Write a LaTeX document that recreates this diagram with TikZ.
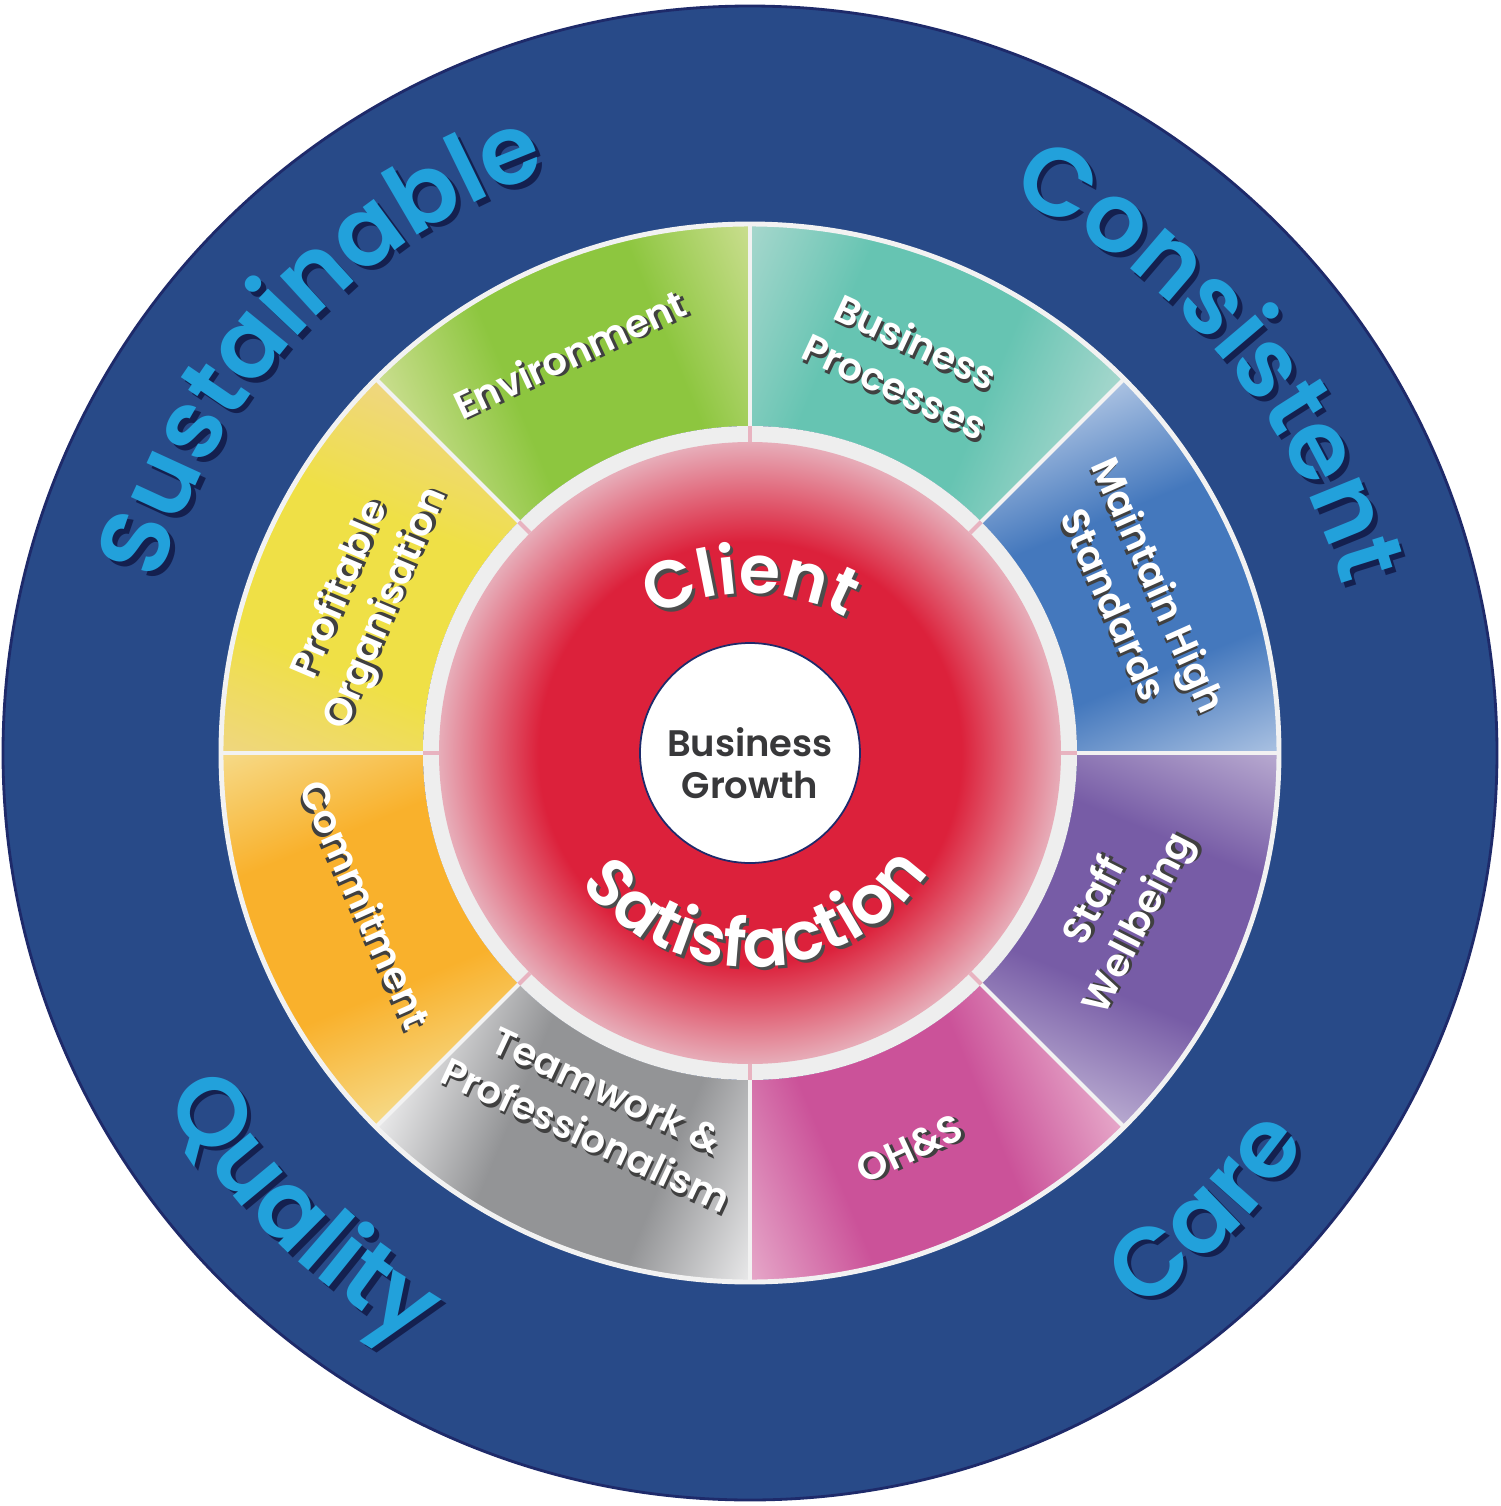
\documentclass[tikz,border=0pt]{standalone}
\usepackage{fontspec}
\setmainfont{Poppins}[BoldFont={Poppins SemiBold}]
\usetikzlibrary{decorations.text}

\definecolor{navy}{HTML}{284A88}
\definecolor{navyline}{HTML}{1E2A6A}
\definecolor{wordblue}{HTML}{22A1DB}
\definecolor{wordshadow}{HTML}{14204F}
\definecolor{ringgray}{HTML}{EEEEEE}
\definecolor{spokegray}{HTML}{F2F2F2}
\definecolor{tickpink}{HTML}{E8B3C0}
\definecolor{clientred}{HTML}{DC213B}
\definecolor{clientpink}{HTML}{E7ADB9}
\definecolor{growthgray}{HTML}{38383A}
\definecolor{envB}{HTML}{8DC63F}\definecolor{envL}{HTML}{CADE8F}
\definecolor{procB}{HTML}{66C4B2}\definecolor{procL}{HTML}{A6D7CD}
\definecolor{stdB}{HTML}{4478BD}\definecolor{stdL}{HTML}{ABC2E2}
\definecolor{staffB}{HTML}{775CA6}\definecolor{staffL}{HTML}{B8AAD0}
\definecolor{ohsB}{HTML}{CB5299}\definecolor{ohsL}{HTML}{E6A8C9}
\definecolor{teamB}{HTML}{939496}\definecolor{teamL}{HTML}{E9E9EA}
\definecolor{comB}{HTML}{F9B12C}\definecolor{comL}{HTML}{F6DA88}
\definecolor{profB}{HTML}{EFE046}\definecolor{profL}{HTML}{EFD680}
\colorlet{segB}{white}
\colorlet{segL}{white}

\pgfdeclarehorizontalshading[segL,segB]{segshade}{100bp}{color(0bp)=(segL); color(25bp)=(segL); color(40bp)=(segB); color(60bp)=(segB); color(75bp)=(segL); color(100bp)=(segL)}
\pgfdeclareradialshading{redglow}{\pgfpoint{0bp}{0bp}}{color(0bp)=(clientred); color(17bp)=(clientred); color(25bp)=(clientpink); color(50bp)=(clientpink)}

\newcommand{\bigword}{\bfseries\fontsize{27.5}{30}\selectfont}
\newcommand{\midword}{\bfseries\fontsize{19}{20}\selectfont}
\newcommand{\shadowed}[1]{\leavevmode\rlap{\kern0.8pt\raisebox{-0.8pt}{\textcolor{black!75}{#1}}}#1}

\begin{document}
\begin{tikzpicture}[
    seglabel/.style={text=white, font=\bfseries\fontsize{11}{14}\selectfont, align=center, inner sep=0pt},
    spoke/.style={draw=spokegray, line width=1.2pt},
    tick/.style={draw=tickpink, line width=1.2pt},
    word/.style={decorate, decoration={text along path, text align=center, text color=wordblue, text={|\bigword|#1}}},
    wordshade/.style={decorate, decoration={text along path, text align=center, text color=wordshadow, text={|\bigword|#1}}},
    ring/.style={decorate, decoration={text along path, text align=center, text color=white, text={|\midword|#1}}},
    ringshade/.style={decorate, decoration={text along path, text align=center, text color=black!70, text={|\midword|#1}}}]
    \useasboundingbox (-7.5,-7.53) rectangle (7.5,7.53);
    \fill[white] (-7.5,-7.53) rectangle (7.5,7.53);
    \draw[fill=navy, draw=navyline, line width=0.8pt] (0,0) circle (7.47);

    \foreach \m/\base/\light in {112.5/envB/envL, 67.5/procB/procL, 22.5/stdB/stdL, 337.5/staffB/staffL,
                                 292.5/ohsB/ohsL, 247.5/teamB/teamL, 202.5/comB/comL, 157.5/profB/profL}{
        \colorlet{segB}{\base}
        \colorlet{segL}{\light}
        \begin{scope}[transform canvas={rotate=\m-90}]
            \shade[shading=segshade] (67.5:3.27) arc[start angle=67.5, end angle=112.5, radius=3.27]
                -- (112.5:5.28) arc[start angle=112.5, end angle=67.5, radius=5.28] -- cycle;
        \end{scope}
    }
    \draw[draw=spokegray, line width=1.4pt] (0,0) circle (5.29);
    \fill[ringgray] (0,0) circle (3.27);
    \shade[shading=redglow] (0,0) circle (3.11);
    \foreach \a in {0,45,...,315}{
        \draw[spoke] (\a:3.27) -- (\a:5.29);
        \draw[tick] (\a:3.11) -- (\a:3.27);
    }

    \node[circle, fill=white, draw=navyline, line width=0.5pt, minimum size=2.2cm] (core) at (0,0) {};
    \node[text=growthgray, font=\bfseries\fontsize{10.5}{12}\selectfont, align=center, inner sep=0pt] (growth) at (0,-0.1) {Business\\Growth};

    \path[ringshade=Client, xshift=0.9pt, yshift=-0.9pt] (0,-0.4) ++(140:2) arc[start angle=140, end angle=40, radius=2];
    \path[ring=Client] (0,-0.4) ++(140:2) arc[start angle=140, end angle=40, radius=2];
    \path[ringshade=Satisfaction, xshift=0.9pt, yshift=-0.9pt] (202:2.14) arc[start angle=202, end angle=342, radius=2.14];
    \path[ring=Satisfaction] (202:2.14) arc[start angle=202, end angle=342, radius=2.14];

    \node[seglabel, rotate=25] (env) at (114.3:4.37) {\shadowed{Environment}};
    \node[seglabel, rotate=-25] (bproc) at (68.2:4.18) {\shadowed{Business}\\\shadowed{Processes}};
    \node[seglabel, rotate=-66] (mhs) at (22.3:4.17) {\shadowed{Maintain High}\\\shadowed{Standards}};
    \node[seglabel, rotate=63] (staff) at (-23.5:4.03) {\shadowed{Staff}\\\shadowed{Wellbeing}};
    \node[seglabel, rotate=25] (ohs) at (-68:4.28) {\shadowed{OH\&S}};
    \node[seglabel, rotate=-25] (team) at (246.9:3.92) {\shadowed{Teamwork \&}\\\shadowed{Professionalism}};
    \node[seglabel, rotate=-66] (commit) at (201.5:4.14) {\shadowed{Commitment}};
    \node[seglabel, rotate=67] (profit) at (158.3:4.14) {\shadowed{Profitable}\\\shadowed{Organisation}};

    \path[wordshade=Sustainable, xshift=1.3pt, yshift=-1.3pt] (176.5:6.15) arc[start angle=176.5, end angle=96.5, radius=6.15];
    \path[word=Sustainable] (176.5:6.15) arc[start angle=176.5, end angle=96.5, radius=6.15];
    \path[wordshade=Consistent, xshift=1.3pt, yshift=-1.3pt] (80.4:6.15) arc[start angle=80.4, end angle=0.4, radius=6.15];
    \path[word=Consistent] (80.4:6.15) arc[start angle=80.4, end angle=0.4, radius=6.15];
    \path[wordshade=Quality, xshift=1.3pt, yshift=-1.3pt] (185.5:6.8) arc[start angle=185.5, end angle=265.5, radius=6.8];
    \path[word=Quality] (185.5:6.8) arc[start angle=185.5, end angle=265.5, radius=6.8];
    \path[wordshade=Care, xshift=1.3pt, yshift=-1.3pt] (275:6.8) arc[start angle=275, end angle=355, radius=6.8];
    \path[word=Care] (275:6.8) arc[start angle=275, end angle=355, radius=6.8];
\end{tikzpicture}
\end{document}
